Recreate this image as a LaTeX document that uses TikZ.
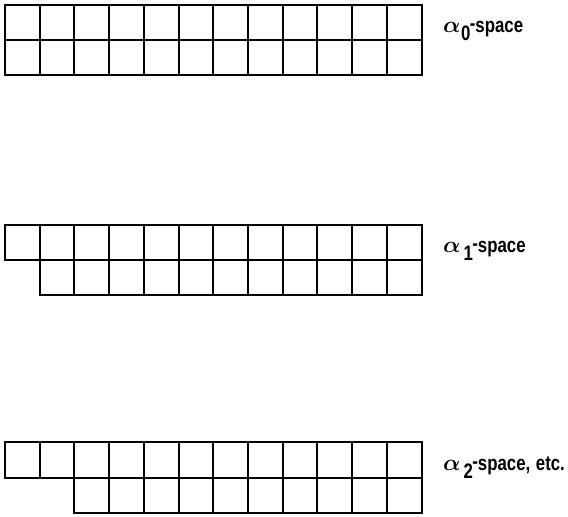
\documentclass[tikz,border=0pt]{standalone}
\usepackage{fontspec}
\usepackage{bm}
\setmainfont[FakeStretch=0.8]{Liberation Sans}
\tikzset{
  gridline/.style={line width=2pt, line join=miter, line cap=rect},
  lbl/.style={anchor=base west, inner sep=0pt, font=\bfseries\fontsize{21}{24}\selectfont}
}
\newcommand{\alab}[2]{\scalebox{1.1}{$\bm{\alpha}$}\hspace{#2}\raisebox{-8pt}{#1}\hspace{-0.5pt}\raisebox{1.5pt}{-}space}
\begin{document}
\begin{tikzpicture}[x=1pt,y=-1pt]
\useasboundingbox (0,0) rectangle (568,517);
\def\cw{34.72}
\foreach \r/\ya/\yb/\s in {0/5/40/0, 1/40/75/0, 0/225/259.5/0, 1/259.5/295/1, 0/442/478/0, 1/478/513/2}{
  \foreach \c in {\s,...,11}{
    \draw[gridline] ({5+\c*\cw},\ya) rectangle ({5+(\c+1)*\cw},\yb);
  }
}
\node[lbl] (l0) at (443,32) {\alab{0}{0.5pt}};
\node[lbl] (l1) at (443,252) {\alab{1}{3pt}};
\node[lbl] (l2) at (443,470) {\alab{2}{3pt}, \hspace{1pt}etc.};
\end{tikzpicture}
\end{document}
